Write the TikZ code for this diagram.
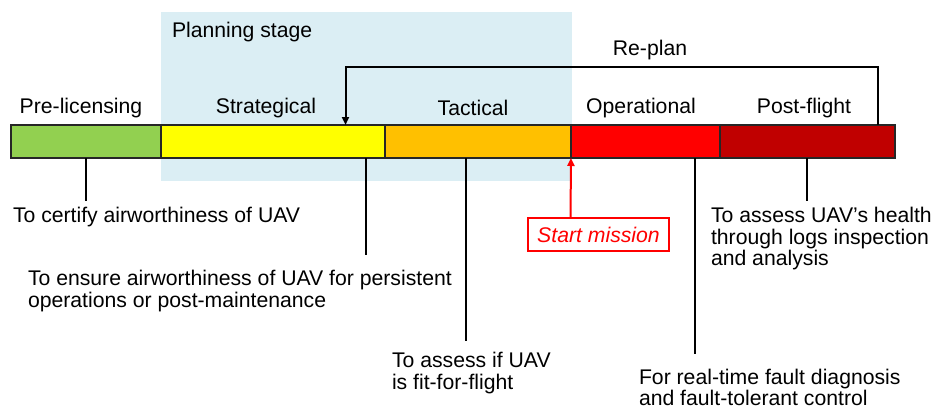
\documentclass[tikz,border=0pt]{standalone}
\usepackage{fontspec}
\setmainfont{Liberation Sans}
\usetikzlibrary{arrows.meta}
\definecolor{plan}{HTML}{DBEEF4}
\definecolor{cgreen}{HTML}{92D050}
\definecolor{cyellow}{HTML}{FFFF00}
\definecolor{corange}{HTML}{FFC000}
\definecolor{cred}{HTML}{FF0000}
\definecolor{cdred}{HTML}{C00000}
\begin{document}
\begin{tikzpicture}[x=1pt,y=-1pt,
  every node/.style={font=\fontsize{21.2}{21.5}\selectfont, inner sep=0pt, outer sep=0pt},
  seg/.style={draw=black!85, line width=1.3pt, minimum height=33pt},
  lbl/.style={anchor=center},
  note/.style={anchor=west, align=left},
  conn/.style={draw=black, line width=2.3pt},
  tip/.style={-{Triangle[length=8pt,width=7pt]}}]
\useasboundingbox (0,0) rectangle (931,410);

% planning stage backdrop
\fill[plan] (161,12) rectangle (572,181);
\node[anchor=west] (plantitle) at (172,32) {Planning stage};

% phase bar
\node[seg, fill=cgreen,  minimum width=150pt] (pre)  at (86,141.5) {};
\node[seg, fill=cyellow, minimum width=224pt] (stra) at (273,141.5) {};
\node[seg, fill=corange, minimum width=186pt] (tac)  at (478,141.5) {};
\node[seg, fill=cred,    minimum width=149pt] (ops)  at (645.5,141.5) {};
\node[seg, fill=cdred,   minimum width=175pt] (post) at (807.5,141.5) {};

% phase names
\node[lbl] (tpre)  at (81,108)  {Pre-licensing};
\node[lbl] (tstra) at (266,108) {Strategical};
\node[lbl] (ttac)  at (473,108) {Tactical};
\node[lbl] (tops)  at (641,108) {Operational};
\node[lbl] (tpost) at (804,108) {Post-flight};

% re-plan loop
\node[lbl] (replan) at (650,50) {Re-plan};
\coordinate (rpR) at (878,66.5);
\coordinate (rpL) at (345.5,66.5);
\draw[line width=2pt, tip, line join=miter]
  (post.north -| rpR) -- (rpR) -- (rpL) -- (stra.north -| rpL);

% start of mission
\node[draw=red, line width=2pt, fill=white, minimum width=141pt, minimum height=33pt,
      text=red, font=\fontsize{21.2}{21.5}\selectfont\itshape] (start) at (598.5,234.5) {Start mission};
\coordinate (sm) at (570.5,218);
\draw[red, line width=2pt, tip] (start.north -| sm) -- (tac.south east);

% purpose notes
\node[note] (n1) at (13,217) {To certify airworthiness of UAV};
\node[note] (n2) at (28,291) {To ensure airworthiness of UAV for persistent\\operations or post-maintenance};
\node[note] (n3) at (392,373) {To assess if UAV\\is fit-for-flight};
\node[note] (n4) at (639,387.5) {For real-time fault diagnosis\\and fault-tolerant control};
\node[note] (n5) at (711,239) {To assess UAV’s health\\through logs inspection\\and analysis};

% connector ends
\coordinate (e1) at (86,201);
\coordinate (e2) at (366,255);
\coordinate (e3) at (466,341);
\coordinate (e4) at (695,354);
\coordinate (e5) at (807,201);
\draw[conn] (pre.south -| e1) -- (e1);
\draw[conn] (stra.south -| e2) -- (e2);
\draw[conn] (tac.south -| e3) -- (e3);
\draw[conn] (ops.south -| e4) -- (e4);
\draw[conn] (post.south -| e5) -- (e5);
\end{tikzpicture}
\end{document}
